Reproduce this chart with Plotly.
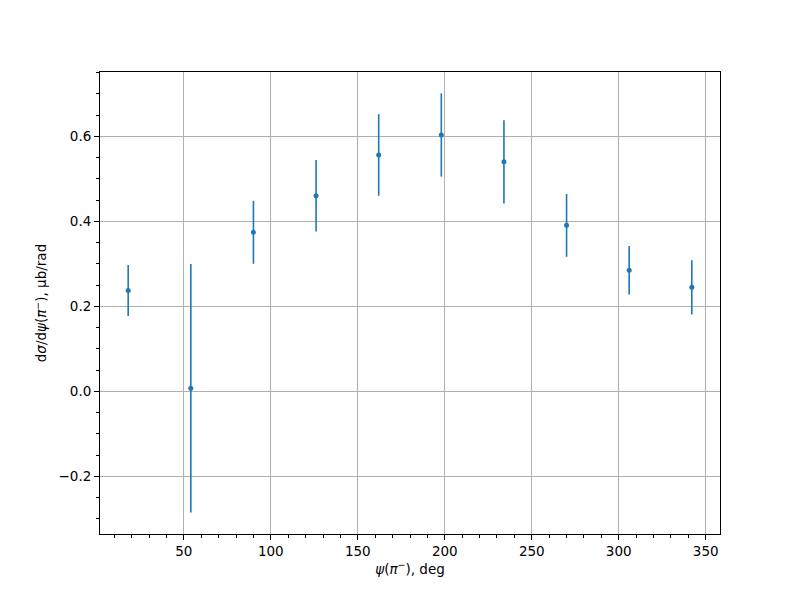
import plotly.graph_objects as go

psi_deg = [18, 54, 90, 126, 162, 198, 234, 270, 306, 342]
dsigma = [0.237, 0.007, 0.374, 0.460, 0.556, 0.603, 0.540, 0.3905, 0.2846, 0.2446]
dsigma_err = [0.060, 0.2925, 0.074, 0.084, 0.096, 0.098, 0.098, 0.074, 0.057, 0.064]

color = "#1f77b4"
fig = go.Figure()
fig.add_trace(go.Scatter(
    x=psi_deg, y=dsigma, mode="markers",
    marker=dict(color=color, size=5),
    error_y=dict(type="data", array=dsigma_err, visible=True,
                 color=color, thickness=1.6, width=0),
    showlegend=False,
))

font = dict(family="DejaVu Sans", size=13.5, color="black")
axis_common = dict(
    showline=True, linecolor="black", linewidth=1.1, mirror=True,
    ticks="outside", ticklen=4.9, tickwidth=1.1, tickcolor="black",
    showgrid=True, gridcolor="#b0b0b0", gridwidth=1.1,
    zeroline=False, tickfont=font, automargin=False,
)
fig.update_layout(
    width=800, height=600,
    margin=dict(l=100, r=80, t=72, b=66, autoexpand=False),
    plot_bgcolor="white", paper_bgcolor="white",
    font=font,
    xaxis=dict(range=[1.8, 358.2], tickvals=[50, 100, 150, 200, 250, 300, 350],
               minor=dict(dtick=10, tick0=0, ticks="outside", ticklen=2.8,
                          tickwidth=0.8, tickcolor="black", showgrid=False),
               title=dict(text="<i>ψ</i>(<i>π</i><sup>−</sup>), deg", font=font, standoff=6),
               **axis_common),
    yaxis=dict(range=[-0.3358, 0.7513], tickvals=[-0.2, 0.0, 0.2, 0.4, 0.6],
               ticktext=["−0.2", "0.0", "0.2", "0.4", "0.6"],
               minor=dict(dtick=0.05, tick0=0, ticks="outside", ticklen=2.8,
                          tickwidth=0.8, tickcolor="black", showgrid=False),
               title=dict(text="d<i>σ</i>/d<i>ψ</i>(<i>π</i><sup>−</sup>), μb/rad", font=font, standoff=8),
               **axis_common),
)
fig.write_html("out.html", config={"displayModeBar": False},
               post_script="document.body.style.margin='0';")
